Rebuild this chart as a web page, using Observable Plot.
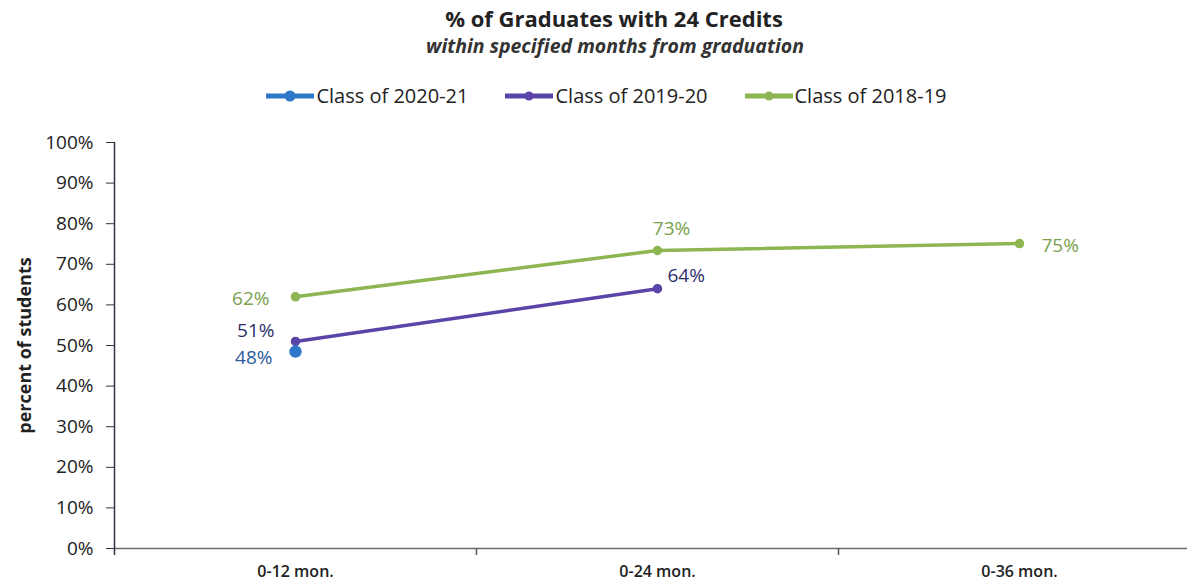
<!DOCTYPE html>
<html>
<head>
<meta charset="utf-8">
<script src="https://cdn.jsdelivr.net/npm/d3@7"></script>
<script src="https://cdn.jsdelivr.net/npm/@observablehq/plot@0.6"></script>
<style>
  html, body { margin: 0; padding: 0; background: #fff; overflow: hidden; }
  body { width: 1187px; height: 582px; position: relative; font-family: "Open Sans", sans-serif; color: #222; }
  #title { position: absolute; left: 0; width: 1228px; top: 3px; text-align: center; font-weight: 700; font-size: 22px; line-height: 30px; }
  #subtitle { position: absolute; left: 0; width: 1230px; top: 33px; text-align: center; font-weight: 700; font-style: italic; font-size: 19.5px; line-height: 26px; color: #333; }
  #legend { position: absolute; left: 0; width: 1212px; top: 82px; display: flex; justify-content: center; gap: 36px; font-size: 20px; line-height: 28px; color: #222; }
  .item { display: flex; align-items: center; gap: 1px; }
  #chart { position: absolute; left: 0; top: 115px; }
  #chart svg { max-width: none !important; }
</style>
</head>
<body>
<div id="title">% of Graduates with 24 Credits</div>
<div id="subtitle">within specified months from graduation</div>
<div id="legend"></div>
<div id="chart"></div>
<script>
const categories = ["0-12 mon.", "0-24 mon.", "0-36 mon."];
const seriesNames = ["Class of 2020-21", "Class of 2019-20", "Class of 2018-19"];
const seriesColors = ["#2f77c8", "#5a44a8", "#8db552"];
const labelColors = ["#2c5a9c", "#2c2f6a", "#7aa04e"];

const class2021 = [48.5];
const class2021Labels = ["48%"];
const class1920 = [51, 64];
const class1920Labels = ["51%", "64%"];
const class1819 = [62, 73.4, 75.1];
const class1819Labels = ["62%", "73%", "75%"];

const yTicks = [0, 10, 20, 30, 40, 50, 60, 70, 80, 90, 100];

const seriesValues = [class2021, class1920, class1819];
const seriesLabels = [class2021Labels, class1920Labels, class1819Labels];
const rows = [];
seriesValues.forEach((vals, s) => vals.forEach((v, i) => rows.push({
  series: seriesNames[s], si: s, cat: categories[i], ci: i, value: v, label: seriesLabels[s][i]
})));

// legend
const legend = document.getElementById("legend");
seriesNames.forEach((name, s) => {
  const item = document.createElement("div");
  item.className = "item";
  item.innerHTML = `<svg width="50" height="14"><line x1="1" x2="49" y1="7" y2="7" stroke="${seriesColors[s]}" stroke-width="5"/><circle cx="25" cy="7" r="${s === 0 ? 5.5 : 4.5}" fill="${seriesColors[s]}"/></svg><span>${name}</span>`;
  legend.appendChild(item);
});

// per-label offsets (style)
const labelStyle = {
  "2-0": {dx: -26, dy: 2, anchor: "end"},
  "2-1": {dx: 14, dy: -22, anchor: "middle"},
  "2-2": {dx: 22, dy: 2, anchor: "start"},
  "1-0": {dx: -21, dy: -11, anchor: "end"},
  "1-1": {dx: 10, dy: -13, anchor: "start"},
  "0-0": {dx: -23, dy: 6, anchor: "end"}
};
const textMarks = rows.map(r => {
  const st = labelStyle[`${r.si}-${r.ci}`];
  return Plot.text([r], {
    x: "cat", y: "value", text: "label", dx: st.dx, dy: st.dy, textAnchor: st.anchor,
    fill: labelColors[r.si], fontSize: 19, fontFamily: "Open Sans"
  });
});

const lineMarks = seriesNames.map((name, s) => [
  Plot.line(rows.filter(r => r.si === s), {x: "cat", y: "value", stroke: seriesColors[s], strokeWidth: 3.5}),
  Plot.dot(rows.filter(r => r.si === s), {x: "cat", y: "value", r: s === 0 ? 5.5 : 4, fill: seriesColors[s], stroke: seriesColors[s]})
]).reverse().flat();

const chart = Plot.plot({
  width: 1200,
  height: 467,
  marginLeft: 114,
  marginRight: 0,
  marginTop: 27,
  marginBottom: 34,
  style: {fontFamily: "Open Sans", background: "transparent", overflow: "visible", maxWidth: "none"},
  x: {type: "point", domain: categories, padding: 0.5},
  y: {domain: [0, 100]},
  marks: [
    Plot.axisY({ticks: yTicks, tickFormat: d => d + "%", tickSize: 8, tickPadding: 13, fontSize: 19, fill: "#222", stroke: "#333", label: null}),
    Plot.axisX({tickSize: 0, tickPadding: 17, fontSize: 16, fontWeight: 600, fill: "#222", label: null}),
    Plot.text(["percent of students"], {frameAnchor: "left", textAnchor: "middle", rotate: -90, dx: -89, text: d => d, fontSize: 18, fontWeight: 700, fill: "#222"}),
    Plot.ruleY([0], {stroke: "#6b6b6b", strokeWidth: 1.5}),
    Plot.ruleX([0], {x: () => categories[0], dx: -181, y1: -1.7, y2: 100, stroke: "#2d3447", strokeWidth: 1.5}),
    Plot.ruleX(categories.slice(1), {x: d => d, dx: -181, y1: 0, y2: -1.7, stroke: "#555", strokeWidth: 1.5}),
    ...lineMarks,
    ...textMarks
  ]
});
document.getElementById("chart").appendChild(chart);
</script>
</body>
</html>
